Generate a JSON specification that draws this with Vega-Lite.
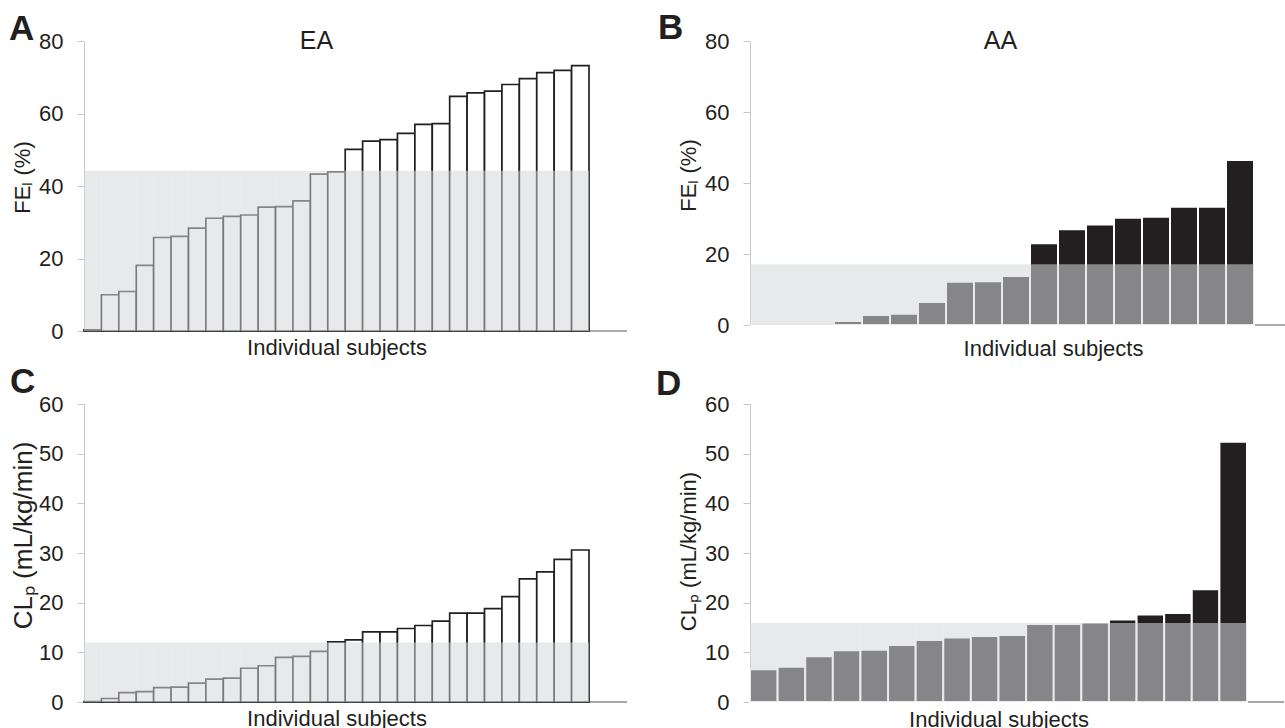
{
  "$schema": "https://vega.github.io/schema/vega-lite/v6.json",
  "padding": {"left": 9, "top": 10, "right": 0, "bottom": 0},
  "background": "white",
  "bounds": "flush",
  "align": "each",
  "columns": 2,
  "spacing": {"row": 73, "column": 123},
  "datasets": {
    "EA_FE": [
      {"subject": 1, "value": 0.3, "cutoff": 44.2}, {"subject": 2, "value": 10.0, "cutoff": 44.2}, {"subject": 3, "value": 10.9, "cutoff": 44.2},
      {"subject": 4, "value": 18.1, "cutoff": 44.2}, {"subject": 5, "value": 25.8, "cutoff": 44.2}, {"subject": 6, "value": 26.1, "cutoff": 44.2},
      {"subject": 7, "value": 28.4, "cutoff": 44.2}, {"subject": 8, "value": 31.1, "cutoff": 44.2}, {"subject": 9, "value": 31.6, "cutoff": 44.2},
      {"subject": 10, "value": 32.0, "cutoff": 44.2}, {"subject": 11, "value": 34.2, "cutoff": 44.2}, {"subject": 12, "value": 34.3, "cutoff": 44.2},
      {"subject": 13, "value": 35.9, "cutoff": 44.2}, {"subject": 14, "value": 43.3, "cutoff": 44.2}, {"subject": 15, "value": 43.9, "cutoff": 44.2},
      {"subject": 16, "value": 50.1, "cutoff": 44.2}, {"subject": 17, "value": 52.4, "cutoff": 44.2}, {"subject": 18, "value": 52.8, "cutoff": 44.2},
      {"subject": 19, "value": 54.5, "cutoff": 44.2}, {"subject": 20, "value": 57.0, "cutoff": 44.2}, {"subject": 21, "value": 57.2, "cutoff": 44.2},
      {"subject": 22, "value": 64.7, "cutoff": 44.2}, {"subject": 23, "value": 65.7, "cutoff": 44.2}, {"subject": 24, "value": 66.2, "cutoff": 44.2},
      {"subject": 25, "value": 68.0, "cutoff": 44.2}, {"subject": 26, "value": 69.6, "cutoff": 44.2}, {"subject": 27, "value": 71.3, "cutoff": 44.2},
      {"subject": 28, "value": 71.9, "cutoff": 44.2}, {"subject": 29, "value": 73.2, "cutoff": 44.2}
    ],
    "AA_FE": [
      {"subject": 1, "value": 0, "cutoff": 17.1}, {"subject": 2, "value": 0, "cutoff": 17.1}, {"subject": 3, "value": 0, "cutoff": 17.1},
      {"subject": 4, "value": 1.1, "cutoff": 17.1}, {"subject": 5, "value": 2.8, "cutoff": 17.1}, {"subject": 6, "value": 3.2, "cutoff": 17.1},
      {"subject": 7, "value": 6.5, "cutoff": 17.1}, {"subject": 8, "value": 12.2, "cutoff": 17.1}, {"subject": 9, "value": 12.3, "cutoff": 17.1},
      {"subject": 10, "value": 13.8, "cutoff": 17.1}, {"subject": 11, "value": 23.0, "cutoff": 17.1}, {"subject": 12, "value": 27.0, "cutoff": 17.1},
      {"subject": 13, "value": 28.3, "cutoff": 17.1}, {"subject": 14, "value": 30.2, "cutoff": 17.1}, {"subject": 15, "value": 30.5, "cutoff": 17.1},
      {"subject": 16, "value": 33.3, "cutoff": 17.1}, {"subject": 17, "value": 33.3, "cutoff": 17.1}, {"subject": 18, "value": 46.5, "cutoff": 17.1}
    ],
    "EA_CL": [
      {"subject": 1, "value": 0.1, "cutoff": 12.0}, {"subject": 2, "value": 0.7, "cutoff": 12.0}, {"subject": 3, "value": 1.9, "cutoff": 12.0},
      {"subject": 4, "value": 2.1, "cutoff": 12.0}, {"subject": 5, "value": 2.9, "cutoff": 12.0}, {"subject": 6, "value": 3.0, "cutoff": 12.0},
      {"subject": 7, "value": 3.8, "cutoff": 12.0}, {"subject": 8, "value": 4.6, "cutoff": 12.0}, {"subject": 9, "value": 4.8, "cutoff": 12.0},
      {"subject": 10, "value": 6.8, "cutoff": 12.0}, {"subject": 11, "value": 7.3, "cutoff": 12.0}, {"subject": 12, "value": 9.0, "cutoff": 12.0},
      {"subject": 13, "value": 9.2, "cutoff": 12.0}, {"subject": 14, "value": 10.2, "cutoff": 12.0}, {"subject": 15, "value": 12.1, "cutoff": 12.0},
      {"subject": 16, "value": 12.5, "cutoff": 12.0}, {"subject": 17, "value": 14.1, "cutoff": 12.0}, {"subject": 18, "value": 14.1, "cutoff": 12.0},
      {"subject": 19, "value": 14.8, "cutoff": 12.0}, {"subject": 20, "value": 15.4, "cutoff": 12.0}, {"subject": 21, "value": 16.3, "cutoff": 12.0},
      {"subject": 22, "value": 17.9, "cutoff": 12.0}, {"subject": 23, "value": 17.9, "cutoff": 12.0}, {"subject": 24, "value": 18.8, "cutoff": 12.0},
      {"subject": 25, "value": 21.2, "cutoff": 12.0}, {"subject": 26, "value": 24.8, "cutoff": 12.0}, {"subject": 27, "value": 26.2, "cutoff": 12.0},
      {"subject": 28, "value": 28.7, "cutoff": 12.0}, {"subject": 29, "value": 30.6, "cutoff": 12.0}
    ],
    "AA_CL": [
      {"subject": 1, "value": 6.6, "cutoff": 15.9}, {"subject": 2, "value": 7.1, "cutoff": 15.9}, {"subject": 3, "value": 9.2, "cutoff": 15.9},
      {"subject": 4, "value": 10.4, "cutoff": 15.9}, {"subject": 5, "value": 10.5, "cutoff": 15.9}, {"subject": 6, "value": 11.5, "cutoff": 15.9},
      {"subject": 7, "value": 12.5, "cutoff": 15.9}, {"subject": 8, "value": 13.0, "cutoff": 15.9}, {"subject": 9, "value": 13.3, "cutoff": 15.9},
      {"subject": 10, "value": 13.5, "cutoff": 15.9}, {"subject": 11, "value": 15.7, "cutoff": 15.9}, {"subject": 12, "value": 15.7, "cutoff": 15.9},
      {"subject": 13, "value": 16.0, "cutoff": 15.9}, {"subject": 14, "value": 16.6, "cutoff": 15.9}, {"subject": 15, "value": 17.6, "cutoff": 15.9},
      {"subject": 16, "value": 17.9, "cutoff": 15.9}, {"subject": 17, "value": 22.7, "cutoff": 15.9}, {"subject": 18, "value": 52.4, "cutoff": 15.9}
    ]
  },
  "config": {
    "font": "Liberation Sans",
    "view": {"stroke": null},
    "title": {"color": "#231f20"}
  },
  "concat": [
    {
      "title": {"text": "A", "anchor": "start", "frame": "group", "dx": -75, "fontSize": 35, "fontWeight": "bold", "baseline": "alphabetic", "offset": -46},
      "width": 543, "height": 290,
      "data": {"name": "EA_FE"},
      "resolve": {"scale": {"x": "independent"}},
      "layer": [
        {"data": {"values": [{"base": 0}]}, "mark": {"type": "rule", "color": "#8c8c8c", "strokeWidth": 1.5},
         "encoding": {"y": {"field": "base", "type": "quantitative"}}},
        {"mark": {"type": "bar", "fill": "white", "stroke": "#231f20", "strokeWidth": 1.7},
         "encoding": {
           "x": {"field": "subject", "type": "ordinal", "scale": {"range": [0, 505], "paddingInner": 0, "paddingOuter": 0},
                 "axis": {"title": "Individual subjects", "labels": false, "ticks": false, "domain": false, "titleFontSize": 22, "titleFontWeight": "normal", "titleColor": "#231f20", "titlePadding": 23, "titleBaseline": "alphabetic"}},
           "y": {"field": "value", "type": "quantitative", "scale": {"domain": [0, 80], "nice": false},
                 "axis": {"title": "FEₗ (%)", "values": [0, 20, 40, 60, 80], "grid": false, "domainColor": "#c8c8c8", "tickColor": "#c8c8c8", "tickSize": 7, "labelPadding": 14, "labelFontSize": 22, "labelColor": "#231f20", "titleFontSize": 22, "titleFontWeight": "normal", "titleColor": "#231f20", "titlePadding": 4, "titleY": 136}}
         }},
        {"mark": {"type": "bar", "fill": "#d6d8da", "opacity": 0.555},
         "encoding": {
           "x": {"field": "subject", "type": "ordinal", "scale": {"range": [0, 505], "paddingInner": 0, "paddingOuter": 0},
                 "axis": {"orient": "top", "title": "EA", "labels": false, "ticks": false, "domain": false, "titleFontSize": 25, "titleFontWeight": "normal", "titleColor": "#231f20", "titleX": 232, "titleY": 7.5, "titleBaseline": "alphabetic"}},
           "y": {"field": "cutoff", "type": "quantitative"}}}
      ]
    },
    {
      "title": {"text": "B", "anchor": "start", "frame": "group", "dx": -92, "fontSize": 35, "fontWeight": "bold", "baseline": "alphabetic", "offset": -45},
      "width": 536, "height": 284,
      "data": {"name": "AA_FE"},
      "resolve": {"scale": {"x": "independent"}},
      "layer": [
        {"data": {"values": [{"base": 0}]}, "mark": {"type": "rule", "color": "#8c8c8c", "strokeWidth": 1.5},
         "encoding": {"y": {"field": "base", "type": "quantitative"}}},
        {"mark": {"type": "bar", "fill": "#231f20", "stroke": "white", "strokeWidth": 2},
         "encoding": {
           "x": {"field": "subject", "type": "ordinal", "scale": {"range": [0, 504], "paddingInner": 0, "paddingOuter": 0},
                 "axis": {"title": "Individual subjects", "labels": false, "ticks": false, "domain": false, "titleFontSize": 22, "titleFontWeight": "normal", "titleColor": "#231f20", "titlePadding": 30, "titleBaseline": "alphabetic", "titleX": 303}},
           "y": {"field": "value", "type": "quantitative", "scale": {"domain": [0, 80], "nice": false},
                 "axis": {"title": "FEₗ (%)", "values": [0, 20, 40, 60, 80], "grid": false, "domainColor": "#c8c8c8", "tickColor": "#c8c8c8", "tickSize": 7, "labelPadding": 14, "labelFontSize": 22, "labelColor": "#231f20", "titleFontSize": 22, "titleFontWeight": "normal", "titleColor": "#231f20", "titlePadding": 4, "titleY": 134}}
         }},
        {"mark": {"type": "bar", "fill": "#d6d8da", "opacity": 0.555},
         "encoding": {
           "x": {"field": "subject", "type": "ordinal", "scale": {"range": [0, 504], "paddingInner": 0, "paddingOuter": 0},
                 "axis": {"orient": "top", "title": "AA", "labels": false, "ticks": false, "domain": false, "titleFontSize": 25, "titleFontWeight": "normal", "titleColor": "#231f20", "titleX": 250, "titleY": 7.5, "titleBaseline": "alphabetic"}},
           "y": {"field": "cutoff", "type": "quantitative"}}}
      ]
    },
    {
      "title": {"text": "C", "anchor": "start", "frame": "group", "dx": -74, "fontSize": 35, "fontWeight": "bold", "baseline": "alphabetic", "offset": -35},
      "width": 543, "height": 298,
      "data": {"name": "EA_CL"},
      "layer": [
        {"data": {"values": [{"base": 0}]}, "mark": {"type": "rule", "color": "#8c8c8c", "strokeWidth": 1.5},
         "encoding": {"y": {"field": "base", "type": "quantitative"}}},
        {"mark": {"type": "bar", "fill": "white", "stroke": "#231f20", "strokeWidth": 1.7},
         "encoding": {
           "x": {"field": "subject", "type": "ordinal", "scale": {"range": [0, 505], "paddingInner": 0, "paddingOuter": 0},
                 "axis": {"title": "Individual subjects", "labels": false, "ticks": false, "domain": false, "titleFontSize": 22, "titleFontWeight": "normal", "titleColor": "#231f20", "titlePadding": 23, "titleBaseline": "alphabetic"}},
           "y": {"field": "value", "type": "quantitative", "scale": {"domain": [0, 60], "nice": false},
                 "axis": {"title": "CLₚ (mL/kg/min)", "values": [0, 10, 20, 30, 40, 50, 60], "grid": false, "domainColor": "#c8c8c8", "tickColor": "#c8c8c8", "tickSize": 7, "labelPadding": 14, "labelFontSize": 22, "labelColor": "#231f20", "titleFontSize": 26, "titleFontWeight": "normal", "titleColor": "#231f20", "titlePadding": 2, "titleY": 131}}
         }},
        {"mark": {"type": "bar", "fill": "#d6d8da", "opacity": 0.555},
         "encoding": {"x": {"field": "subject", "type": "ordinal"}, "y": {"field": "cutoff", "type": "quantitative"}}}
      ]
    },
    {
      "title": {"text": "D", "anchor": "start", "frame": "group", "dx": -94, "fontSize": 35, "fontWeight": "bold", "baseline": "alphabetic", "offset": -37},
      "width": 534, "height": 298,
      "data": {"name": "AA_CL"},
      "layer": [
        {"data": {"values": [{"base": 0}]}, "mark": {"type": "rule", "color": "#8c8c8c", "strokeWidth": 1.5},
         "encoding": {"y": {"field": "base", "type": "quantitative"}}},
        {"mark": {"type": "bar", "fill": "#231f20", "stroke": "white", "strokeWidth": 2},
         "encoding": {
           "x": {"field": "subject", "type": "ordinal", "scale": {"range": [0, 497], "paddingInner": 0, "paddingOuter": 0},
                 "axis": {"title": "Individual subjects", "labels": false, "ticks": false, "domain": false, "titleFontSize": 22, "titleFontWeight": "normal", "titleColor": "#231f20", "titlePadding": 24, "titleBaseline": "alphabetic"}},
           "y": {"field": "value", "type": "quantitative", "scale": {"domain": [0, 60], "nice": false},
                 "axis": {"title": "CLₚ (mL/kg/min)", "values": [0, 10, 20, 30, 40, 50, 60], "grid": false, "domainColor": "#c8c8c8", "tickColor": "#c8c8c8", "tickSize": 7, "labelPadding": 14, "labelFontSize": 22, "labelColor": "#231f20", "titleFontSize": 22, "titleFontWeight": "normal", "titleColor": "#231f20", "titlePadding": 4, "titleY": 147}}
         }},
        {"mark": {"type": "bar", "fill": "#d6d8da", "opacity": 0.555},
         "encoding": {"x": {"field": "subject", "type": "ordinal"}, "y": {"field": "cutoff", "type": "quantitative"}}}
      ]
    }
  ]
}
